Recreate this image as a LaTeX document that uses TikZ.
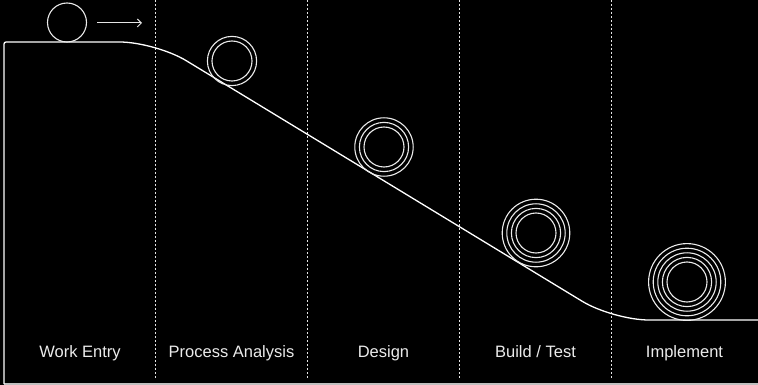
\documentclass[tikz,border=0pt]{standalone}
\usepackage{fontspec}
\setmainfont{Liberation Sans}
\usetikzlibrary{arrows.meta}
\begin{document}
\begin{tikzpicture}[x=1pt,y=-1pt,
  ln/.style={draw=white,line width=1.3pt},
  ring/.style={draw=white!92!black,line width=1.1pt},
  divider/.style={draw=white!90!black,line width=0.9pt,dash pattern=on 2pt off 2pt},
  lbl/.style={text=white!92!black,font=\fontsize{16.5}{19}\selectfont,inner sep=0pt,anchor=base}]
\fill[black] (0,0) rectangle (758,385);
\useasboundingbox (0,0) rectangle (758,385);
% dividers
\foreach \x/\n in {155.5/d1,307.5/d2,459.5/d3,611.5/d4}{
  \coordinate (\n t) at (\x,0);
  \coordinate (\n b) at (\x,378);
  \draw[divider] (\n t) -- (\n b);
}
% frame and slope
\coordinate (bl) at (4,384);
\coordinate (tl) at (4,42);
\coordinate (k1) at (155.5,42);
\coordinate (k2) at (613,320);
\coordinate (er) at (758,320);
\coordinate (br) at (758,384);
\draw[draw=white!75!black,line width=1.3pt] (br) -- (bl);
\draw[ln] (bl) [rounded corners=2pt] -- (tl) [rounded corners=36pt] -- (k1) -- (k2) -- (er);
% starting ball and arrow
\node[ring,circle,minimum size=39pt,inner sep=0pt] (b0) at (67,22.5) {};
\coordinate (a0) at (97,23);
\coordinate (a1) at (142,23);
\draw[draw=white!90!black,line width=1pt,-{Straight Barb[length=4pt,width=8pt]}] (a0) -- (a1);
% rolling balls
\foreach \cx/\cy/\k/\n in {232/61/2/b1,384/147/3/b2,536/233/4/b3,687/282/5/b4}{
  \node[circle,inner sep=0pt,minimum size=40pt] (\n) at (\cx,\cy) {};
  \foreach \i in {1,...,\k}{
    \draw[ring] (\n.center) circle[radius={15.4+4.6*\i}];
  }
}
% labels
\node[lbl] (l1) at (80,357) {Work Entry};
\node[lbl] (l2) at (231.5,357) {Process Analysis};
\node[lbl] (l3) at (383.5,357) {Design};
\node[lbl] (l4) at (535.5,357) {Build / Test};
\node[lbl] (l5) at (684.5,357) {Implement};
\end{tikzpicture}
\end{document}
